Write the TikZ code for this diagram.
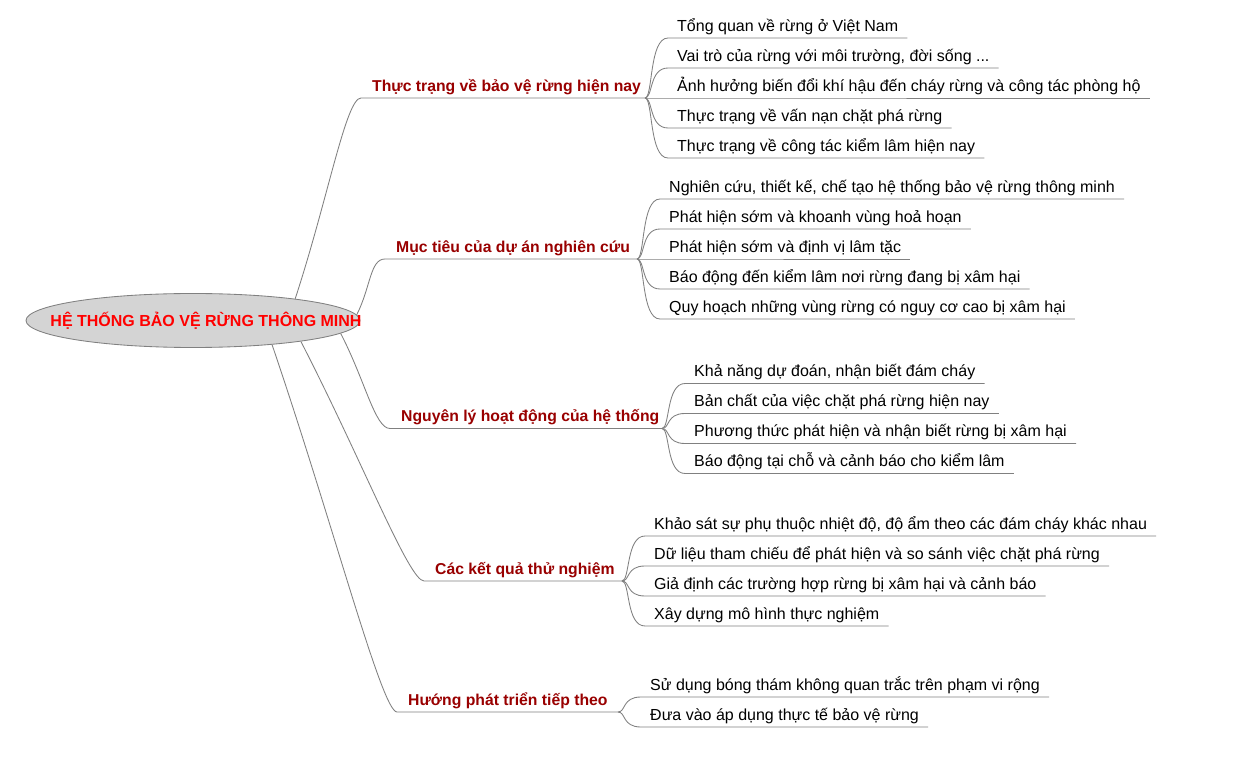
\documentclass[tikz,border=0pt]{standalone}
\usepackage{fontspec}
\setmainfont{Liberation Sans}
\usetikzlibrary{shapes.geometric,calc}
\definecolor{linegray}{RGB}{128,128,128}
\definecolor{branchred}{RGB}{153,0,0}
\definecolor{rootfill}{RGB}{212,212,212}
\definecolor{rootred}{RGB}{255,0,0}
\tikzset{
  conn/.style={draw=linegray, line width=0.85pt},
  rootshape/.style={ellipse, draw=linegray, fill=rootfill, line width=0.85pt,
    minimum width=334pt, minimum height=54pt, inner sep=0pt},
  roottext/.style={font=\fontsize{16}{19}\selectfont\bfseries, text=rootred,
    inner sep=0pt, anchor=base},
  branch/.style={font=\fontsize{15.75}{19}\selectfont\bfseries, text=branchred,
    inner xsep=0pt, inner ysep=3pt, text height=12pt, text depth=3.5pt, anchor=south west},
  leaf/.style={font=\fontsize{16}{19}\selectfont, text=black,
    inner xsep=9pt, inner ysep=3pt, text height=12pt, text depth=3.5pt, anchor=south west},
}
\newcommand\leafedge[2]{\draw[conn] (#1) .. controls ([xshift=8pt]#1) and ([xshift=4pt]#1 |- #2.south west) .. (#2.south west) -- (#2.south east);}
\newcommand\rootedge[3]{\draw[conn] (root.#1) .. controls ($(root.#1)!0.5!(#2)$) and ([xshift=-15pt]#2) .. (#2) -- (#3);}
\begin{document}
\begin{tikzpicture}[x=1pt,y=-1pt]
\useasboundingbox (0,0) rectangle (1245,775);
\fill[white] (0,0) rectangle (1245,775);

\node[rootshape] (root) at (193,320.5) {};
\node[roottext] (roottxt) at (206,326.5) {HỆ THỐNG BẢO VỆ RỪNG THÔNG MINH};

% ---- Branch 1
\node[branch] (b1) at (372,98) {Thực trạng về bảo vệ rừng hiện nay};
\coordinate (b1s) at (361,98);
\coordinate (f1) at (645,98);
\rootedge{12}{b1s}{f1}
\node[leaf] (l11) at (668,38) {Tổng quan về rừng ở Việt Nam};
\node[leaf] (l12) at (668,68) {Vai trò của rừng với môi trường, đời sống ...};
\node[leaf] (l13) at (668,98) {Ảnh hưởng biến đổi khí hậu đến cháy rừng và công tác phòng hộ};
\node[leaf] (l14) at (668,128) {Thực trạng về vấn nạn chặt phá rừng};
\node[leaf] (l15) at (668,158) {Thực trạng về công tác kiểm lâm hiện nay};
\leafedge{f1}{l11}\leafedge{f1}{l12}\leafedge{f1}{l13}\leafedge{f1}{l14}\leafedge{f1}{l15}

% ---- Branch 2
\node[branch] (b2) at (396,259) {Mục tiêu của dự án nghiên cứu};
\coordinate (b2s) at (385,259);
\coordinate (f2) at (637,259);
\rootedge{2.76}{b2s}{f2}
\node[leaf] (l21) at (660,199) {Nghiên cứu, thiết kế, chế tạo hệ thống bảo vệ rừng thông minh};
\node[leaf] (l22) at (660,229) {Phát hiện sớm và khoanh vùng hoả hoạn};
\node[leaf] (l23) at (660,259) {Phát hiện sớm và định vị lâm tặc};
\node[leaf] (l24) at (660,289) {Báo động đến kiểm lâm nơi rừng đang bị xâm hại};
\node[leaf] (l25) at (660,319) {Quy hoạch những vùng rừng có nguy cơ cao bị xâm hại};
\leafedge{f2}{l21}\leafedge{f2}{l22}\leafedge{f2}{l23}\leafedge{f2}{l24}\leafedge{f2}{l25}

% ---- Branch 3
\node[branch] (b3) at (401,428.5) {Nguyên lý hoạt động của hệ thống};
\coordinate (b3s) at (390,428.5);
\coordinate (f3) at (662,428.5);
\rootedge{355.2}{b3s}{f3}
\node[leaf] (l31) at (685,383.5) {Khả năng dự đoán, nhận biết đám cháy};
\node[leaf] (l32) at (685,413.5) {Bản chất của việc chặt phá rừng hiện nay};
\node[leaf] (l33) at (685,443.5) {Phương thức phát hiện và nhận biết rừng bị xâm hại};
\node[leaf] (l34) at (685,473.5) {Báo động tại chỗ và cảnh báo cho kiểm lâm};
\leafedge{f3}{l31}\leafedge{f3}{l32}\leafedge{f3}{l33}\leafedge{f3}{l34}

% ---- Branch 4
\node[branch] (b4) at (435,581) {Các kết quả thử nghiệm};
\coordinate (b4s) at (424,581);
\coordinate (f4) at (622,581);
\rootedge{349.9}{b4s}{f4}
\node[leaf] (l41) at (645,536) {Khảo sát sự phụ thuộc nhiệt độ, độ ẩm theo các đám cháy khác nhau};
\node[leaf] (l42) at (645,566) {Dữ liệu tham chiếu để phát hiện và so sánh việc chặt phá rừng};
\node[leaf] (l43) at (645,596) {Giả định các trường hợp rừng bị xâm hại và cảnh báo};
\node[leaf] (l44) at (645,626) {Xây dựng mô hình thực nghiệm};
\leafedge{f4}{l41}\leafedge{f4}{l42}\leafedge{f4}{l43}\leafedge{f4}{l44}

% ---- Branch 5
\node[branch] (b5) at (408,712) {Hướng phát triển tiếp theo};
\coordinate (b5s) at (397,712);
\coordinate (f5) at (618,712);
\rootedge{343.2}{b5s}{f5}
\node[leaf] (l51) at (641,697) {Sử dụng bóng thám không quan trắc trên phạm vi rộng};
\node[leaf] (l52) at (641,727) {Đưa vào áp dụng thực tế bảo vệ rừng};
\leafedge{f5}{l51}\leafedge{f5}{l52}
\end{tikzpicture}
\end{document}
